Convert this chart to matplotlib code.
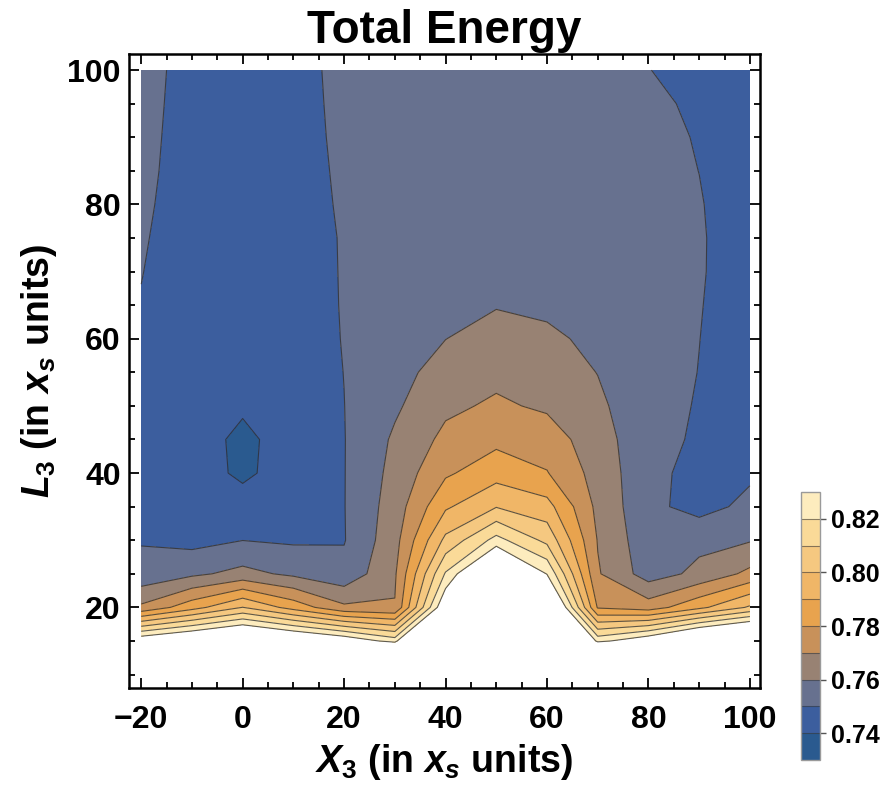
import numpy as np
import matplotlib
matplotlib.use("Agg")
import matplotlib.pyplot as plt
from matplotlib.ticker import MultipleLocator, FormatStrFormatter

# Grid of the scan: soliton position X3 and length L3 (both in x_s units)
x3 = [-20, -10, 0, 10, 20, 30, 40, 50, 60, 70, 80, 90, 100]
l3 = [10, 15, 20, 25, 30, 35, 40, 45, 50, 55, 60, 65, 70, 75, 80, 85, 90, 95, 100]

# Total energy, one row per L3 value, one column per X3 value
energy = [
    [0.9500, 0.9500, 0.9500, 0.9500, 0.9500, 0.9500, 0.9500, 0.9700, 0.9500, 0.9500, 0.9500, 0.9500, 0.9500],
    [0.8395, 0.8486, 0.8577, 0.8486, 0.8395, 0.8255, 0.9200, 0.9500, 0.9100, 0.8267, 0.8395, 0.8585, 0.8696],
    [0.7719, 0.7860, 0.8002, 0.7860, 0.7719, 0.7705, 0.8415, 0.9200, 0.8600, 0.7790, 0.7750, 0.7875, 0.8014],
    [0.7529, 0.7580, 0.7630, 0.7580, 0.7529, 0.7687, 0.8210, 0.8600, 0.8295, 0.7710, 0.7553, 0.7625, 0.7725],
    [0.7494, 0.7469, 0.7499, 0.7487, 0.7495, 0.7665, 0.8025, 0.8235, 0.8073, 0.7695, 0.7535, 0.7575, 0.7593],
    [0.7478, 0.7455, 0.7445, 0.7455, 0.7497, 0.7648, 0.7885, 0.7995, 0.7937, 0.7675, 0.7525, 0.7465, 0.7525],
    [0.7472, 0.7450, 0.7380, 0.7450, 0.7497, 0.7631, 0.7785, 0.7860, 0.7805, 0.7661, 0.7528, 0.7468, 0.7485],
    [0.7470, 0.7450, 0.7375, 0.7450, 0.7497, 0.7615, 0.7725, 0.7775, 0.7750, 0.7644, 0.7530, 0.7488, 0.7468],
    [0.7472, 0.7450, 0.7415, 0.7450, 0.7499, 0.7585, 0.7680, 0.7715, 0.7685, 0.7619, 0.7532, 0.7494, 0.7460],
    [0.7478, 0.7450, 0.7440, 0.7450, 0.7501, 0.7570, 0.7635, 0.7675, 0.7650, 0.7598, 0.7535, 0.74985, 0.7460],
    [0.7486, 0.7450, 0.7450, 0.7450, 0.7504, 0.7558, 0.7599, 0.7635, 0.7615, 0.7582, 0.7535, 0.75008, 0.7460],
    [0.7495, 0.7445, 0.7450, 0.7450, 0.7506, 0.7553, 0.7575, 0.7595, 0.7585, 0.7565, 0.7535, 0.75035, 0.7460],
    [0.7503, 0.7443, 0.7450, 0.7450, 0.7507, 0.7550, 0.7565, 0.7570, 0.7565, 0.7555, 0.7533, 0.75065, 0.7460],
    [0.7510, 0.7448, 0.7450, 0.7450, 0.7508, 0.7548, 0.7560, 0.7555, 0.7555, 0.7550, 0.7532, 0.75070, 0.7460],
    [0.7515, 0.7459, 0.7450, 0.7450, 0.7514, 0.7548, 0.7555, 0.7550, 0.7550, 0.7548, 0.7530, 0.75044, 0.7460],
    [0.7520, 0.7463, 0.7450, 0.7450, 0.7520, 0.7546, 0.7553, 0.7550, 0.7548, 0.7545, 0.7525, 0.74995, 0.7460],
    [0.7523, 0.7466, 0.7450, 0.7450, 0.7527, 0.7545, 0.7550, 0.7548, 0.7545, 0.7540, 0.7520, 0.74956, 0.7460],
    [0.7525, 0.7470, 0.7450, 0.7450, 0.7533, 0.7545, 0.7550, 0.7545, 0.7540, 0.7535, 0.7515, 0.74877, 0.7460],
    [0.7527, 0.7473, 0.7450, 0.7450, 0.7539, 0.7545, 0.7550, 0.7545, 0.7535, 0.7530, 0.7503, 0.74530, 0.7460],
]

levels = [0.73, 0.74, 0.75, 0.76, 0.77, 0.78, 0.79, 0.80, 0.81, 0.82, 0.83]
band_colors = ["#2a5a8f", "#3c5e9e", "#67718f", "#988273", "#c8915a",
               "#e8a34e", "#f0b667", "#f5c880", "#fada98", "#fdecbe"]
cbar_ticks = [0.74, 0.76, 0.78, 0.80, 0.82]

plt.rcParams["font.family"] = ["Liberation Sans", "DejaVu Sans"]
plt.rcParams["font.weight"] = "bold"
plt.rcParams["mathtext.fontset"] = "custom"
plt.rcParams["mathtext.rm"] = "Liberation Sans:bold"
plt.rcParams["mathtext.it"] = "Liberation Sans:bold:italic"
plt.rcParams["mathtext.bf"] = "Liberation Sans:bold"

fig = plt.figure(figsize=(8.88, 7.85), dpi=100)
ax = fig.add_axes([0.1453, 0.1236, 0.7106, 0.8076])

X, Y = np.meshgrid(x3, l3)
Z = np.array(energy)
cf = ax.contourf(X, Y, Z, levels=levels, colors=band_colors)
ax.contour(X, Y, Z, levels=levels[1:], colors="#2b2b2b",
           linewidths=0.8, alpha=0.75)

ax.set_xlim(-22.4, 102.0)
ax.set_ylim(8.0, 102.4)
ax.set_xticks([-20, 0, 20, 40, 60, 80, 100])
ax.set_xticklabels(["\u221220", "0", "20", "40", "60", "80", "100"])
ax.set_yticks([20, 40, 60, 80, 100])
ax.xaxis.set_minor_locator(MultipleLocator(5))
ax.yaxis.set_minor_locator(MultipleLocator(5))
ax.tick_params(which="both", direction="in", top=True, right=True,
               color="black", width=1.3)
ax.tick_params(which="major", length=7)
ax.tick_params(which="minor", length=4)
ax.tick_params(axis="x", which="major", labelsize=23, pad=12)
ax.tick_params(axis="y", which="major", labelsize=23, pad=6)
for lab in ax.get_xticklabels() + ax.get_yticklabels():
    lab.set_fontweight("bold")
for sp in ax.spines.values():
    sp.set_linewidth(1.8)
    sp.set_color("black")

ax.set_title("Total Energy", fontsize=33, fontweight="bold", pad=8)
ax.set_xlabel(r"$X_3$ (in $x_s$ units)", fontsize=27, fontweight="bold",
              labelpad=5)
ax.set_ylabel(r"$L_3$ (in $x_s$ units)", fontsize=27, fontweight="bold",
              labelpad=6)

cax = fig.add_axes([0.902, 0.0318, 0.0214, 0.3414])
cb = fig.colorbar(cf, cax=cax, ticks=cbar_ticks, drawedges=True)
cb.outline.set_edgecolor("#9a9a9a")
cb.outline.set_linewidth(1.0)
cb.dividers.set_color("#3a3a3a")
cb.dividers.set_alpha(0.6)
cb.dividers.set_linewidth(0.8)
cb.ax.yaxis.set_major_formatter(FormatStrFormatter("%.2f"))
cb.ax.tick_params(labelsize=18, length=4, width=1, color="#555555", pad=4)
for lab in cb.ax.get_yticklabels():
    lab.set_fontweight("bold")

fig.savefig("out.png", dpi=100)
